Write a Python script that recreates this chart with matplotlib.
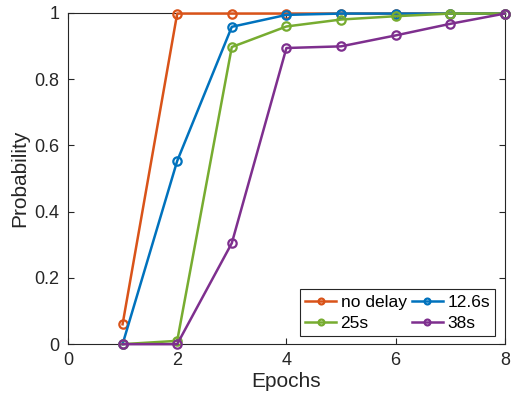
import matplotlib
matplotlib.use("Agg")
import matplotlib.pyplot as plt

plt.rcParams['font.family'] = ['Liberation Sans', 'DejaVu Sans']

epochs = [1, 2, 3, 4, 5, 6, 7, 8]
no_delay = [0.06, 0.998, 0.998, 0.998, 0.998, 0.998, 0.998, 0.998]
delay_12_6 = [0.0, 0.553, 0.958, 0.994, 0.998, 0.998, 0.998, 0.998]
delay_25 = [0.0, 0.01, 0.897, 0.959, 0.98, 0.99, 0.998, 0.998]
delay_38 = [0.0, 0.0, 0.305, 0.894, 0.899, 0.932, 0.967, 0.998]

series = [
    ("no delay", no_delay, (0.85, 0.325, 0.098)),
    ("12.6s", delay_12_6, (0.0, 0.447, 0.741)),
    ("25s", delay_25, (0.466, 0.674, 0.188)),
    ("38s", delay_38, (0.494, 0.184, 0.556)),
]

fig = plt.figure(figsize=(5.11, 4.03), dpi=100)
ax = fig.add_axes([0.133, 0.146, 0.855, 0.822])

handles = {}
for name, vals, col in series:
    h, = ax.plot(epochs, vals, "-o", color=col, linewidth=1.8, markersize=6,
                 markerfacecolor="none", markeredgewidth=1.6, label=name,
                 clip_on=False, zorder=3)
    handles[name] = h

ax.set_xlim(0, 8)
ax.set_ylim(0, 1)
ax.set_xticks([0, 2, 4, 6, 8])
ax.set_yticks([0, 0.2, 0.4, 0.6, 0.8, 1])
ax.set_yticklabels(["0", "0.2", "0.4", "0.6", "0.8", "1"])
ax.tick_params(direction="in", top=True, right=True, labelsize=13, color="#262626",
               labelcolor="#262626", length=4, pad=6)
for s in ax.spines.values():
    s.set_color("#262626")
    s.set_linewidth(0.8)
ax.set_xlabel("Epochs", fontsize=15, color="#262626", labelpad=2)
ax.set_ylabel("Probability", fontsize=15, color="#262626", labelpad=4)

# legend fills column-wise, so reorder to get row order no delay, 12.6s / 25s, 38s
order = ["no delay", "25s", "12.6s", "38s"]
leg = ax.legend([handles[n] for n in order], order, ncol=2, loc="lower right",
                fontsize=12.5, fancybox=False, edgecolor="#262626", framealpha=1,
                handlelength=1.8, columnspacing=0.3, handletextpad=0.25,
                borderpad=0.3, labelspacing=0.35, markerscale=0.7,
                borderaxespad=0, bbox_to_anchor=(0.978, 0.024))
leg.get_frame().set_linewidth(0.8)
leg.set_zorder(5)

fig.savefig("out.png", dpi=100)
